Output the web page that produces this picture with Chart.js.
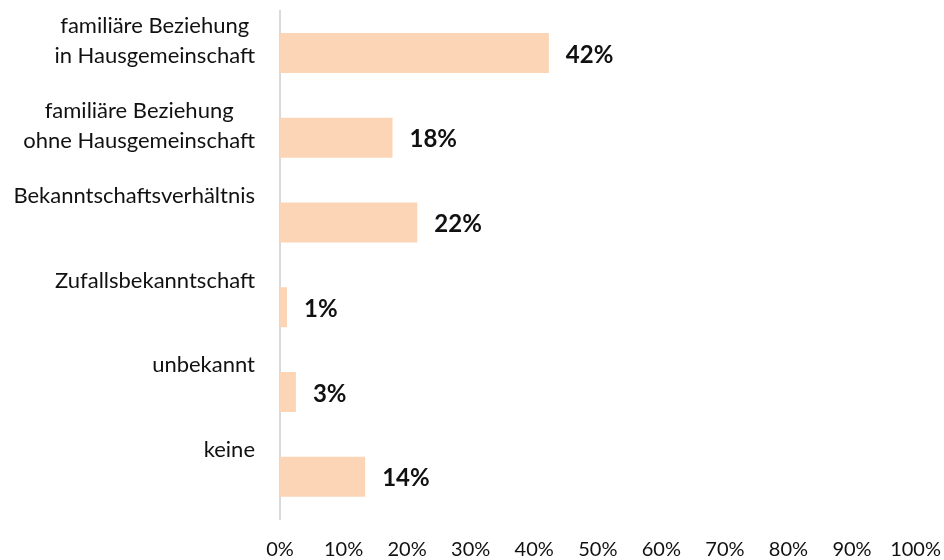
<!DOCTYPE html>
<html>
<head>
<meta charset="utf-8">
<script src="https://cdn.jsdelivr.net/npm/chart.js@4/dist/chart.umd.min.js"></script>
<style>
  html, body { margin: 0; padding: 0; background: #fff; }
  #wrap { width: 944px; height: 560px; position: relative; }
</style>
</head>
<body>
<div id="wrap"><canvas id="myChart" width="944" height="560"></canvas></div>
<script>
// DATA
const categories= [
    ['familiäre Beziehung', 'in Hausgemeinschaft'],
    ['familiäre Beziehung', 'ohne Hausgemeinschaft'],
    ['Bekanntschaftsverhältnis'],
    ['Zufallsbekanntschaft'],
    ['unbekannt'],
    ['keine']
];
const shareValues= [42.3, 17.7, 21.6, 1.1, 2.5, 13.4];     // bar lengths
const shareLabels= ['42%', '18%', '22%', '1%', '3%', '14%']; // printed labels
const xTicks= [0, 10, 20, 30, 40, 50, 60, 70, 80, 90, 100];

const FONT= 'Lato';
const TEXT_COLOR= '#111';

// draws the category labels above each bar (Excel-ish placement) and the bold value labels
const labelPlugin= {
    id: 'labelPlugin',
    afterDatasetsDraw(chart){
        const ctx= chart.ctx;
        const yScale= chart.scales.y;
        ctx.save();
        ctx.fillStyle= TEXT_COLOR;

        // category labels, lines centred on each other, block right edge at 255
        ctx.font= `22px ${FONT}`;
        ctx.textAlign= 'center';
        ctx.textBaseline= 'alphabetic';
        categories.forEach((lines, i)=>{
            const yc= yScale.getPixelForValue(i);
            const maxW= Math.max(...lines.map(l => ctx.measureText(l).width));
            const cx= 255 - maxW/2;
            lines.forEach((line, k)=>{
                ctx.fillText(line, cx, yc - 19.5 + 30*k);
            });
        });

        // value labels
        ctx.font= `bold 24px ${FONT}`;
        ctx.textAlign= 'left';
        ctx.textBaseline= 'middle';
        const meta= chart.getDatasetMeta(0);
        meta.data.forEach((bar, i)=>{
            ctx.fillText(shareLabels[i], bar.x + 17, bar.y + 2);
        });
        ctx.restore();
    }
};

new Chart(document.getElementById('myChart'), {
    type: 'bar',
    data: {
        labels: categories.map(c => c.join(' ')),
        datasets: [{
            data: shareValues,
            backgroundColor: '#FBD5B5',
            borderWidth: 0,
            categoryPercentage: 1,
            barPercentage: 0.472,
        }],
    },
    options: {
        indexAxis: 'y',
        responsive: false,
        animation: false,
        events: [],
        layout: {
            padding: { left: 280, right: 4, top: 10.6, bottom: 0 }
        },
        scales: {
            x: {
                min: 0,
                max: 100,
                afterBuildTicks: (scale) => { scale.ticks= xTicks.map(v => ({value: v})); },
                afterFit: (scale) => { scale.height= 41; },
                grid: { display: false, drawTicks: false },
                border: { display: false },
                ticks: {
                    padding: 3,
                    maxRotation: 0,
                    autoSkip: false,
                    color: TEXT_COLOR,
                    // tall line height pushes the labels down, like the reference
                    font: { family: FONT, size: 20, lineHeight: 2.8 },
                    callback: (v) => v + '%',
                },
            },
            y: {
                grid: { display: false, drawTicks: false },
                border: { display: true, color: '#D9D9D9', width: 2 },
                ticks: { display: false },
            },
        },
        plugins: {
            legend: { display: false },
            tooltip: { enabled: false },
        },
    },
    plugins: [labelPlugin],
});
</script>
</body>
</html>
